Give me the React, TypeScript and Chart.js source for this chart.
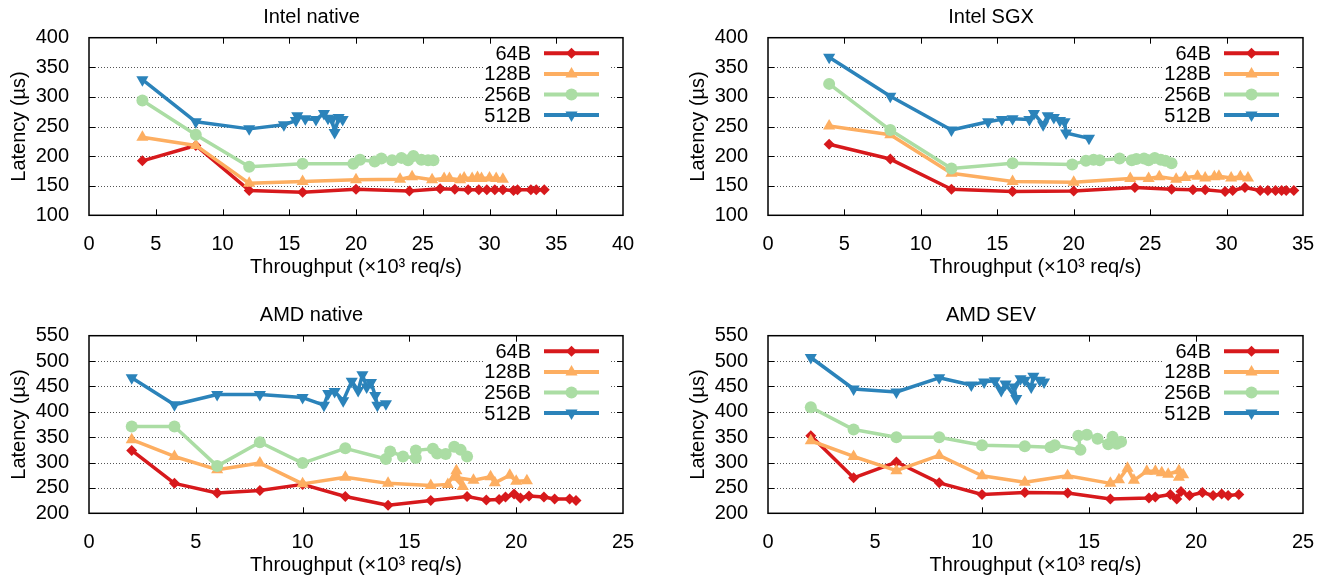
import React, { useEffect, useRef } from 'react';
import { Chart, registerables } from 'chart.js';

Chart.register(...registerables);

type Pt = [number, number];

// ---- labels ----
const SERIES_LABELS = ['64B', '128B', '256B', '512B'];
const X_TITLE = 'Throughput (×10³ req/s)';
const Y_TITLE = 'Latency (µs)';

// ---- Intel native ----
const intelNative64: Pt[] = [[4,192],[8,218],[12,142],[16,139],[20,144],[24,141],[26.3,145],[27.4,144],[28.4,143],[29.2,143],[29.8,143],[30.4,143],[31.0,143],[31.8,142],[32.1,143],[33.1,143],[33.5,143],[34.1,143]];
const intelNative128: Pt[] = [[4,232],[8,218],[12,154],[16,157],[20,160],[23.3,161],[24.2,165],[25.7,160],[26.6,162],[27.0,162],[27.8,160],[28.1,163],[28.7,162],[29.1,164],[29.4,162],[30.0,163],[30.5,162],[31.0,161]];
const intelNative256: Pt[] = [[4,294],[8,236],[12,182],[16,187],[19.8,187],[20.3,194],[21.4,191],[21.9,196],[22.7,193],[23.4,197],[23.9,193],[24.3,200],[24.9,194],[25.4,193],[25.8,193]];
const intelNative512: Pt[] = [[4,329],[8,258],[12,246],[14.6,253],[15.5,260],[15.6,268],[16.2,263],[17.0,262],[17.6,272],[17.9,264],[18.2,262],[18.4,240],[18.7,265],[19.0,262]];

// ---- Intel SGX ----
const intelSgx64: Pt[] = [[4,220],[8,195],[12,144],[16,140],[20,141],[24,147],[26.4,144],[27.8,143],[28.6,143],[29.9,140],[30.4,142],[31.2,147],[32.2,142],[32.7,142],[33.2,142],[33.6,142],[33.9,142],[34.4,142]];
const intelSgx128: Pt[] = [[4,251],[8,236],[12,171],[16,157],[20,156],[23.7,162],[24.9,162],[25.6,165],[26.7,161],[27.3,164],[28.1,166],[28.6,163],[29.2,165],[29.5,166],[30.3,163],[30.9,165],[31.4,163]];
const intelSgx256: Pt[] = [[4,322],[8,244],[12,179],[16,188],[19.9,186],[20.8,192],[21.3,194],[21.7,193],[23.0,196],[23.8,193],[24.1,195],[24.6,196],[24.9,193],[25.3,197],[25.7,194],[26.0,192],[26.4,188]];
const intelSgx512: Pt[] = [[4,367],[8,301],[12,244],[14.4,258],[15.3,262],[16.0,263],[17.1,262],[17.4,272],[18.0,253],[18.3,268],[18.7,265],[19.1,260],[19.4,258],[19.5,239],[21.0,230]];

// ---- AMD native ----
const amdNative64: Pt[] = [[2,324],[4,259],[6,240],[8,245],[10,257],[12,233],[14,216],[16,225],[17.7,233],[18.6,226],[19.2,227],[19.5,232],[19.9,238],[20.2,230],[20.6,234],[21.3,232],[21.8,228],[22.5,228],[22.8,225]];
const amdNative128: Pt[] = [[2,345],[4,312],[6,286],[8,299],[10,258],[12,271],[14,259],[16,255],[16.8,257],[17.2,284],[17.5,253],[17.1,271],[18.0,265],[18.8,272],[19.0,260],[19.7,275],[20.0,263],[20.5,264]];
const amdNative256: Pt[] = [[2,371],[4,371],[6,293],[8,340],[10,299],[12,328],[13.9,307],[14.1,322],[14.7,312],[15.3,309],[15.3,324],[16.1,327],[16.3,318],[16.7,317],[17.1,331],[17.4,325],[17.7,312]];
const amdNative512: Pt[] = [[2,467],[4,414],[6,434],[8,434],[10,428],[11,413],[11.2,436],[11.5,440],[11.9,422],[12.3,460],[12.6,442],[12.8,473],[13.0,449],[13.2,458],[13.4,432],[13.5,413],[13.9,416]];

// ---- AMD SEV ----
const amdSev64: Pt[] = [[2,353],[4,270],[6,301],[8,260],[10,237],[12,241],[14,240],[16,228],[17.8,230],[18.1,232],[18.8,237],[19.1,228],[19.3,243],[19.7,235],[20.3,241],[20.8,235],[21.2,238],[21.5,235],[22.0,237]];
const amdSev128: Pt[] = [[2,343],[4,312],[6,284],[8,314],[10,274],[12,261],[14,274],[16,259],[16.4,266],[16.8,289],[17.1,265],[17.7,283],[18.1,283],[18.4,280],[18.7,277],[19.2,284],[19.2,271],[19.4,276]];
const amdSev256: Pt[] = [[2,409],[4,365],[6,350],[8,350],[10,334],[12,332],[13.2,330],[13.4,334],[14.6,325],[14.5,353],[14.9,355],[15.4,347],[15.9,336],[16.1,351],[16.3,337],[16.5,341]];
const amdSev512: Pt[] = [[2,507],[4,445],[6,439],[8,467],[9.5,453],[10.1,459],[10.6,461],[10.9,442],[11.1,455],[11.6,426],[11.5,449],[11.8,465],[12,462],[12.3,449],[12.4,470],[12.7,462],[12.9,459]];

// ---- styles ----
const COLORS = ['#d7191c', '#fdae61', '#abdda4', '#2b83ba'];
const POINT_STYLES = ['rectRot', 'triangle', 'circle', 'triangle'];
const POINT_ROTATIONS = [0, 0, 0, 180];
const POINT_RADII = [5.5, 7, 6, 7];
const FONT_FAMILY = '"Liberation Sans", Arial, Helvetica, sans-serif';

interface PanelCfg {
  title: string;
  series: Pt[][];
  xMax: number;
  yMin: number;
  yMax: number;
  left: number;
  top: number;
  width: number;
  height: number;
}

const PANELS: PanelCfg[] = [
  { title: 'Intel native', series: [intelNative64, intelNative128, intelNative256, intelNative512], xMax: 40, yMin: 100, yMax: 400, left: 0, top: 0, width: 663, height: 290 },
  { title: 'Intel SGX', series: [intelSgx64, intelSgx128, intelSgx256, intelSgx512], xMax: 35, yMin: 100, yMax: 400, left: 679, top: 0, width: 647, height: 290 },
  { title: 'AMD native', series: [amdNative64, amdNative128, amdNative256, amdNative512], xMax: 25, yMin: 200, yMax: 550, left: 0, top: 298, width: 663, height: 290 },
  { title: 'AMD SEV', series: [amdSev64, amdSev128, amdSev256, amdSev512], xMax: 25, yMin: 200, yMax: 550, left: 679, top: 298, width: 647, height: 290 },
];

const PLOT_LEFT = 89;
const PLOT_RIGHT_PAD = [40, 23, 40, 23];
const BOTTOM_AXIS_H = 74.7;

function drawMarker(ctx: CanvasRenderingContext2D, i: number, x: number, y: number) {
  const style = POINT_STYLES[i];
  const r = POINT_RADII[i];
  ctx.beginPath();
  if (style === 'circle') {
    ctx.arc(x, y, r, 0, Math.PI * 2);
  } else if (style === 'rectRot') {
    ctx.moveTo(x, y - r);
    ctx.lineTo(x + r, y);
    ctx.lineTo(x, y + r);
    ctx.lineTo(x - r, y);
  } else {
    const s = POINT_ROTATIONS[i] === 180 ? -1 : 1;
    const dx = r * Math.sin((2 * Math.PI) / 3);
    ctx.moveTo(x, y - s * r);
    ctx.lineTo(x + dx, y + s * r * 0.5);
    ctx.lineTo(x - dx, y + s * r * 0.5);
  }
  ctx.closePath();
  ctx.fillStyle = COLORS[i];
  ctx.fill();
}

const gnuplotFrame = {
  id: 'gnuplotFrame',
  beforeDatasetsDraw(chart: any) {
    const { ctx, chartArea: a, scales } = chart;
    const ys = scales.y;
    ctx.save();
    ctx.strokeStyle = '#555';
    ctx.lineWidth = 1;
    ctx.setLineDash([1, 2]);
    ys.ticks.forEach((t: any) => {
      if (t.value > ys.min && t.value < ys.max) {
        const py = Math.round(ys.getPixelForValue(t.value)) + 0.5;
        ctx.beginPath();
        ctx.moveTo(a.left, py);
        ctx.lineTo(a.right, py);
        ctx.stroke();
      }
    });
    ctx.restore();
  },
  afterDatasetsDraw(chart: any) {
    const { ctx, chartArea: a, scales } = chart;
    const xs = scales.x;
    const ys = scales.y;
    ctx.save();
    // legend box
    ctx.fillStyle = '#fff';
    ctx.fillRect(a.right - 140, a.top + 6, 128, 82);
    ctx.font = `20px ${FONT_FAMILY}`;
    ctx.textAlign = 'right';
    ctx.textBaseline = 'middle';
    SERIES_LABELS.forEach((lab, i) => {
      const y = a.top + 15.6 + i * 20.6;
      ctx.fillStyle = '#000';
      ctx.fillText(lab, a.right - 92, y + 1);
      ctx.strokeStyle = COLORS[i];
      ctx.lineWidth = 4;
      ctx.beginPath();
      ctx.moveTo(a.right - 79, y);
      ctx.lineTo(a.right - 24, y);
      ctx.stroke();
      drawMarker(ctx, i, a.right - 51.5, y);
    });
    // ticks
    ctx.strokeStyle = '#000';
    ctx.lineWidth = 1;
    const TL = 6;
    xs.ticks.forEach((t: any) => {
      if (t.value > xs.min && t.value < xs.max) {
        const px = Math.round(xs.getPixelForValue(t.value)) + 0.5;
        ctx.beginPath();
        ctx.moveTo(px, a.bottom);
        ctx.lineTo(px, a.bottom - TL);
        ctx.moveTo(px, a.top);
        ctx.lineTo(px, a.top + TL);
        ctx.stroke();
      }
    });
    ys.ticks.forEach((t: any) => {
      if (t.value > ys.min && t.value < ys.max) {
        const py = Math.round(ys.getPixelForValue(t.value)) + 0.5;
        ctx.beginPath();
        ctx.moveTo(a.left, py);
        ctx.lineTo(a.left + TL, py);
        ctx.moveTo(a.right, py);
        ctx.lineTo(a.right - TL, py);
        ctx.stroke();
      }
    });
    // border
    ctx.lineWidth = 1.5;
    ctx.strokeRect(a.left, a.top, a.right - a.left, a.bottom - a.top);
    ctx.restore();
  },
};

function Panel({ cfg, idx }: { cfg: PanelCfg; idx: number }) {
  const ref = useRef<HTMLCanvasElement | null>(null);
  useEffect(() => {
    if (!ref.current) return;
    const chart = new Chart(ref.current, {
      type: 'scatter',
      data: {
        datasets: cfg.series.map((pts, i) => ({
          label: SERIES_LABELS[i],
          data: pts.map(([x, y]) => ({ x, y })),
          showLine: true,
          borderColor: COLORS[i],
          backgroundColor: COLORS[i],
          borderWidth: 3.5,
          borderJoinStyle: 'round' as const,
          borderCapStyle: 'round' as const,
          pointStyle: POINT_STYLES[i] as any,
          pointRotation: POINT_ROTATIONS[i],
          pointRadius: POINT_RADII[i],
          pointBackgroundColor: COLORS[i],
          pointBorderWidth: 0,
          pointHoverRadius: POINT_RADII[i],
          order: 3 - i,
        })),
      },
      options: {
        animation: false,
        responsive: false,
        maintainAspectRatio: false,
        events: [],
        layout: { padding: { left: 0, right: PLOT_RIGHT_PAD[idx], top: 0, bottom: 0 } },
        plugins: {
          legend: { display: false },
          tooltip: { enabled: false },
          title: {
            display: true,
            text: cfg.title,
            color: '#000',
            font: { size: 20, weight: 'normal', family: FONT_FAMILY },
            padding: { top: 5, bottom: 8.7 },
          },
        },
        scales: {
          x: {
            type: 'linear',
            min: 0,
            max: cfg.xMax,
            grid: { display: false },
            border: { display: false },
            ticks: {
              stepSize: 5,
              autoSkip: false,
              maxRotation: 0,
              padding: 9,
              color: '#000',
              font: { size: 20, family: FONT_FAMILY },
            },
            title: {
              display: true,
              text: X_TITLE,
              color: '#000',
              font: { size: 20, family: FONT_FAMILY },
              padding: { top: 0, bottom: 10.5 },
            },
            afterFit: (s: any) => { s.height = BOTTOM_AXIS_H; },
          },
          y: {
            type: 'linear',
            min: cfg.yMin,
            max: cfg.yMax,
            grid: { display: false },
            border: { display: false },
            ticks: {
              stepSize: 50,
              autoSkip: false,
              padding: 12,
              color: '#000',
              font: { size: 20, family: FONT_FAMILY },
            },
            title: {
              display: true,
              text: Y_TITLE,
              color: '#000',
              font: { size: 20, family: FONT_FAMILY },
              padding: { top: 7.5, bottom: 0 },
            },
            afterFit: (s: any) => { s.width = PLOT_LEFT; },
          },
        },
      },
      plugins: [gnuplotFrame],
    } as any);
    return () => chart.destroy();
  }, [cfg, idx]);
  return (
    <canvas
      ref={ref}
      width={cfg.width}
      height={cfg.height}
      style={{ position: 'absolute', left: cfg.left, top: cfg.top, width: cfg.width, height: cfg.height }}
    />
  );
}

export default function App() {
  return (
    <div style={{ position: 'fixed', left: 0, top: 0, width: 1326, height: 579, overflow: 'hidden', background: '#fff' }}>
      {PANELS.map((p, i) => (
        <Panel key={p.title} cfg={p} idx={i} />
      ))}
    </div>
  );
}
